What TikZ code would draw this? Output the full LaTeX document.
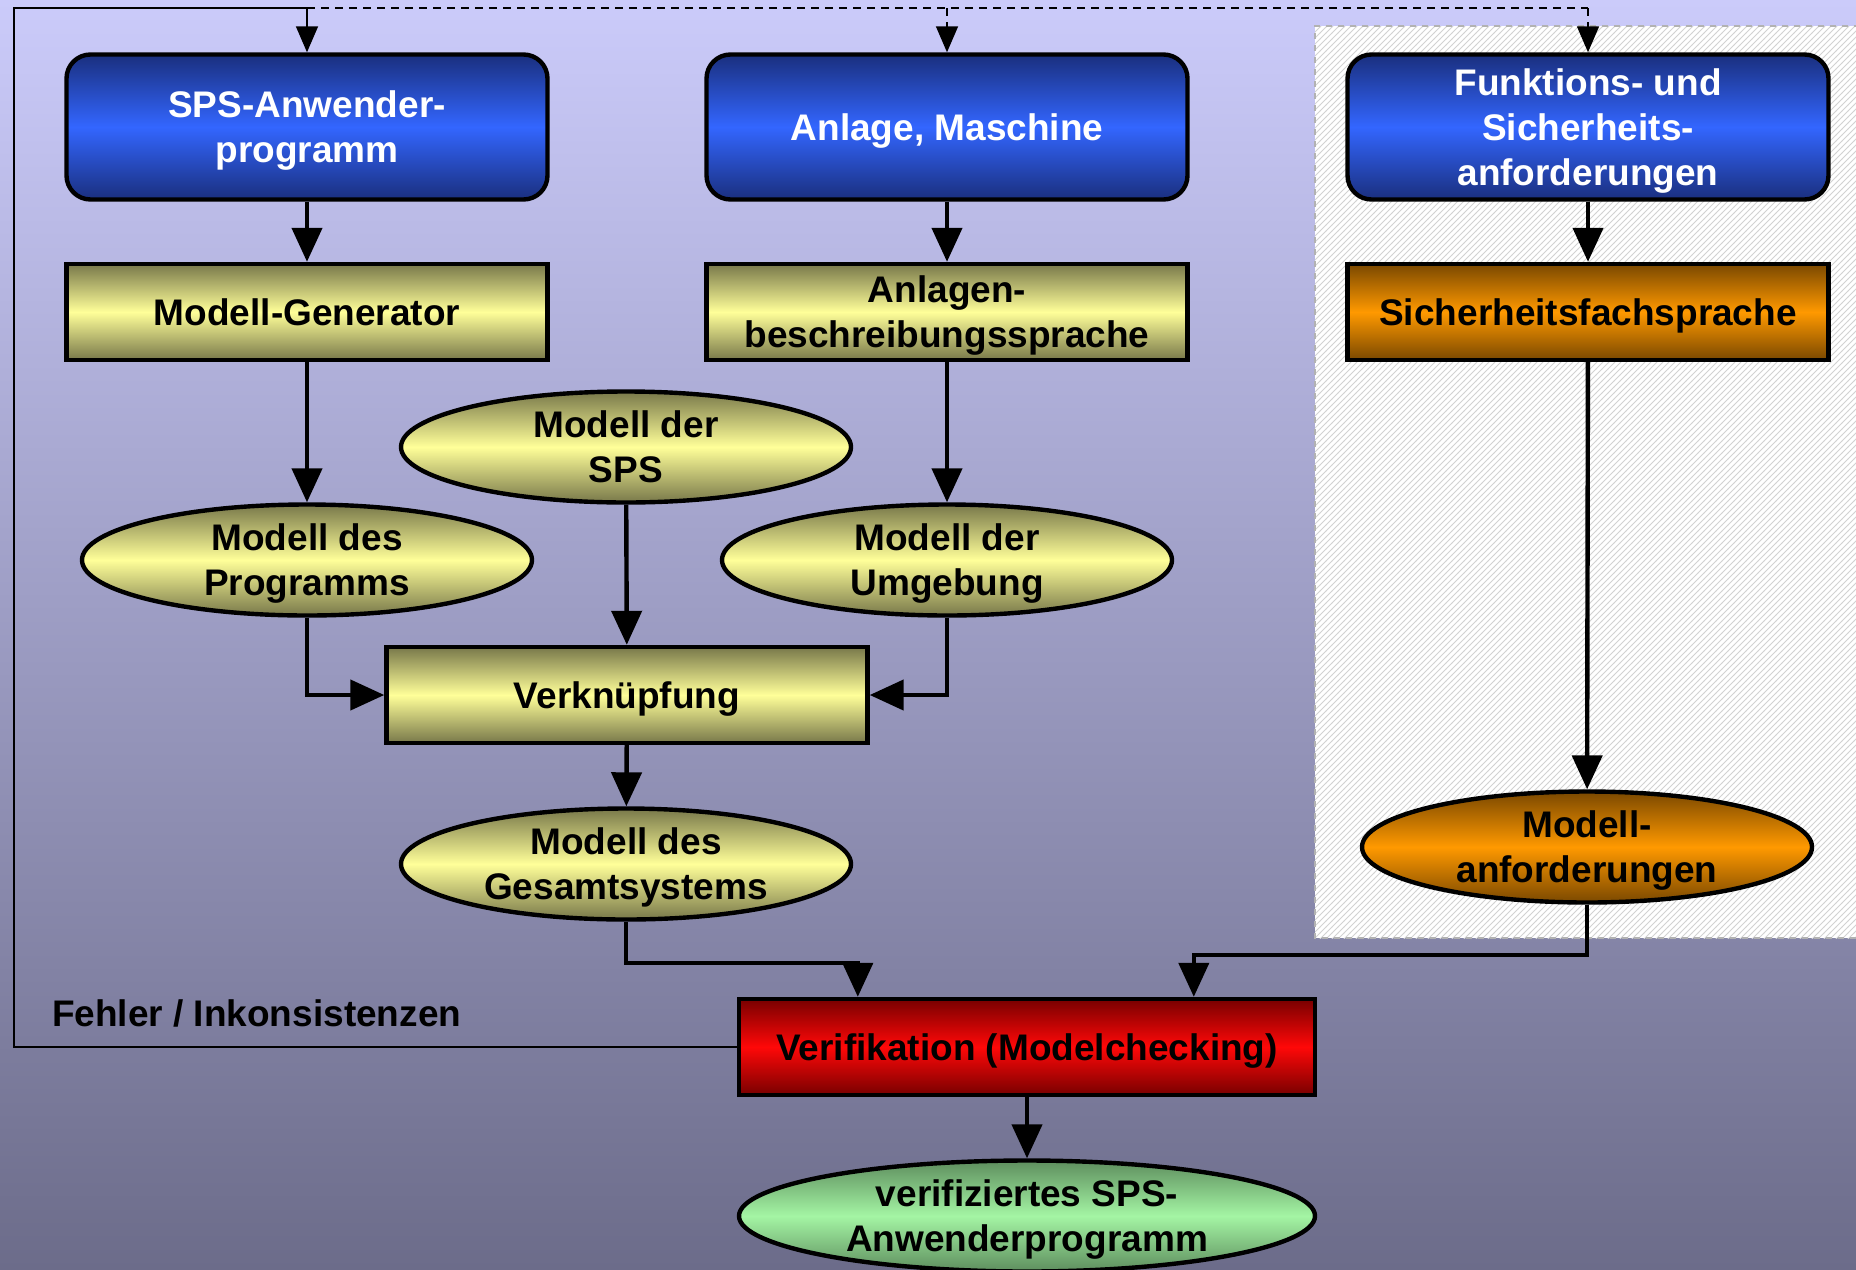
\documentclass[tikz,border=0pt]{standalone}
\usepackage{fontspec}
\setmainfont{Liberation Sans}
\usetikzlibrary{shapes.geometric,arrows.meta,patterns}

\definecolor{bgoben}{HTML}{CBCBFA}
\definecolor{bgunten}{HTML}{6C6C8A}
\definecolor{blaudunkel}{HTML}{1A2F7E}
\definecolor{blauhell}{HTML}{3366FF}
\definecolor{gelbdunkel}{HTML}{78784A}
\definecolor{gelbhell}{HTML}{FFFF99}
\definecolor{orangedunkel}{HTML}{7A4800}
\definecolor{orangehell}{HTML}{FF9900}
\definecolor{rotdunkel}{HTML}{780000}
\definecolor{rothell}{HTML}{FF0808}
\definecolor{gruendunkel}{HTML}{5E8E5E}
\definecolor{gruenhell}{HTML}{A4F5A4}

\begin{document}
\begin{tikzpicture}[x=0.5pt,y=-0.5pt,
    kasten/.style={draw,line width=2.2pt,align=center,inner sep=0pt,text depth=0pt,
        font=\bfseries\fontsize{18.5}{22.5}\selectfont,
        minimum width=240.5pt,minimum height=48pt},
    quelle/.style={kasten,rounded corners=12pt,minimum height=72.5pt,text=white,
        top color=blaudunkel,bottom color=blaudunkel,middle color=blauhell},
    gelb/.style={top color=gelbdunkel,bottom color=gelbdunkel,middle color=gelbhell},
    orange/.style={top color=orangedunkel,bottom color=orangedunkel,middle color=orangehell},
    modell/.style={kasten,ellipse,inner ysep=-3pt,minimum width=225pt,minimum height=55.5pt},
    pfeil/.style={line width=2.2pt,-{Triangle[length=17pt,width=15pt]}},
    rueck/.style={line width=0.8pt},
    rueckpfeil/.style={rueck,-{Triangle[length=13pt,width=11pt]}}]

    \useasboundingbox (0,0) rectangle (1856,1269);
    \fill[top color=bgoben,bottom color=bgunten] (0,0) rectangle (1856,1269);
    % schraffierter Bereich rechts
    \fill[white] (1315,26) rectangle (1860,938);
    \fill[pattern=north east lines,pattern color=gray!35] (1315,26) rectangle (1860,938);
    \draw[gray!60,dashed,line width=0.6pt] (1860,26) -- (1315,26) -- (1315,938) -- (1860,938);

    % obere Reihe
    \node[quelle] (sps) at (307,127) {SPS-Anwender-\\programm};
    \node[quelle] (anlage) at (947,127) {Anlage, Maschine};
    \node[quelle] (funktion) at (1588,127) {Funktions- und\\Sicherheits-\\anforderungen};

    \node[kasten,gelb] (generator) at (307,312) {Modell-Generator};
    \node[kasten,gelb] (beschreibung) at (947,312) {Anlagen-\\beschreibungssprache};
    \node[kasten,orange] (sicherheit) at (1588,312) {Sicherheitsfachsprache};

    % Modelle
    \node[modell,gelb] (mSPS) at (626,447) {Modell der\\SPS};
    \node[modell,gelb] (mProg) at (307,560) {Modell des\\Programms};
    \node[modell,gelb] (mUmg) at (947,560) {Modell der\\Umgebung};
    \node[kasten,gelb] (verkn) at (627,695) {Verknüpfung};
    \node[modell,gelb] (mGes) at (626,864) {Modell des\\Gesamtsystems};
    \node[modell,orange] (mAnf) at (1587,847) {Modell-\\anforderungen};

    \node[kasten,minimum width=288pt,top color=rotdunkel,bottom color=rotdunkel,middle color=rothell] (verif) at (1027,1047) {Verifikation (Modelchecking)};
    \node[modell,minimum width=288pt,top color=gruendunkel,bottom color=gruendunkel,middle color=gruenhell] (ergebnis) at (1027,1216) {verifiziertes SPS-\\Anwenderprogramm};

    \node[anchor=west,font=\bfseries\fontsize{18.5}{22.5}\selectfont] (fehler) at (45,1013) {Fehler / Inkonsistenzen};

    % Verbindungen
    \draw[pfeil] (sps) -- (generator);
    \draw[pfeil] (anlage) -- (beschreibung);
    \draw[pfeil] (funktion) -- (sicherheit);
    \draw[pfeil] (generator) -- (mProg);
    \draw[pfeil] (beschreibung) -- (mUmg);
    \draw[pfeil] (sicherheit) -- (mAnf);
    \draw[pfeil] (mSPS) -- (verkn);
    \draw[pfeil] (mProg.south) |- (verkn.west);
    \draw[pfeil] (mUmg.south) |- (verkn.east);
    \draw[pfeil] (verkn) -- (mGes);

    \path (verif.north west) ++(121,0) coordinate (vE1);
    \path (verif.north west) ++(457,0) coordinate (vE2);
    \draw[pfeil] (mGes.south) -- ++(0,41) -| (vE1);
    \draw[pfeil] (mAnf.south) -- ++(0,50) -| (vE2);
    \draw[pfeil] (verif) -- (ergebnis);

    % Rueckfuehrung
    \coordinate (ecke) at (14,8);
    \coordinate (oben1) at (307,8);
    \coordinate (oben2) at (947,8);
    \coordinate (oben3) at (1588,8);
    \draw[rueck] (verif.west) -| (ecke) -- (oben1);
    \draw[rueckpfeil] (oben1) -- (sps.north);
    \draw[rueck,dash pattern=on 4pt off 3pt] (oben1) -- (oben3);
    \draw[rueckpfeil,dash pattern=on 4pt off 3pt] (oben2) -- (anlage.north);
    \draw[rueckpfeil,dash pattern=on 4pt off 3pt] (oben3) -- (funktion.north);
\end{tikzpicture}
\end{document}
